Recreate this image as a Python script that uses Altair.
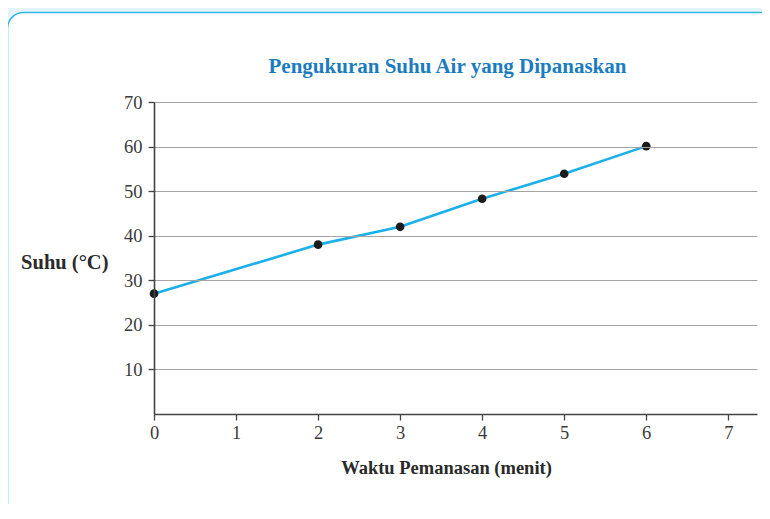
import altair as alt
import pandas as pd

# Data
minutes = [0, 2, 3, 4, 5, 6]
temps = [27, 38, 42, 48.3, 53.9, 60.1]
x_ticks = [0, 1, 2, 3, 4, 5, 6, 7]
y_ticks = [10, 20, 30, 40, 50, 60, 70]
chart_title = "Pengukuran Suhu Air yang Dipanaskan"

df = pd.DataFrame({"menit": minutes, "suhu": temps})

FONT = "Liberation Serif"
W, H = 603, 312

frame = alt.Chart(alt.Data(values=[{}])).mark_rect(
    fill="white", stroke="#35b7ea", strokeWidth=1.6, cornerRadius=16, clip=False
).encode(
    x=alt.value(-146.5), x2=alt.value(640), y=alt.value(-89.5), y2=alt.value(440)
)

title = alt.Chart(alt.Data(values=[{}])).mark_text(
    font=FONT, fontSize=21, fontWeight="bold", color="#1b7cc0",
    align="center", baseline="middle", clip=False
).encode(x=alt.value(W / 2 - 8), y=alt.value(-35), text=alt.value(chart_title))

x_enc = alt.X(
    "menit:Q",
    scale=alt.Scale(domain=[0, 7.35], nice=False, zero=False),
    axis=alt.Axis(
        values=x_ticks, format="d", grid=False, zindex=2, labelFlush=False,
        title="Waktu Pemanasan (menit)",
        titleFont=FONT, titleFontSize=18.5, titleFontWeight="bold", titleColor="#2a2a2a",
        titleX=292, titleY=53, titleBaseline="middle",
        labelFont=FONT, labelFontSize=18.5, labelColor="#3a3a3a", labelPadding=3,
        domainColor="#444444", domainWidth=1.6, tickColor="#444444", tickWidth=1.3, tickSize=6,
    ),
)
y_enc = alt.Y(
    "suhu:Q",
    scale=alt.Scale(domain=[0, 70], nice=False),
    axis=alt.Axis(
        values=y_ticks, grid=True, gridColor="#a3a3a3", gridWidth=1.2, zindex=1, labelFlush=False,
        title="Suhu (°C)", titleAngle=0, titleAlign="right", titleBaseline="middle",
        titleX=-46, titleY=160,
        titleFont=FONT, titleFontSize=20.5, titleFontWeight="bold", titleColor="#2a2a2a",
        labelFont=FONT, labelFontSize=18.5, labelColor="#3a3a3a", labelPadding=6,
        domainColor="#444444", domainWidth=1.6, tickColor="#444444", tickWidth=1.3, tickSize=6,
    ),
)

line = alt.Chart(df).mark_line(color="#1bb0ea", strokeWidth=2.6).encode(x=x_enc, y=y_enc)
pts = alt.Chart(df).mark_circle(color="#1c1c1c", opacity=1, size=75).encode(x="menit:Q", y="suhu:Q")

chart = alt.layer(frame, title, line, pts).properties(
    width=W, height=H,
    autosize=alt.AutoSizeParams(type="none"),
    padding={"left": 146, "top": 94, "right": 5, "bottom": 90},
).configure(background="#e4f4fb").configure_view(stroke=None)

chart.save("out.html", embed_options={"renderer": "svg", "actions": False})
